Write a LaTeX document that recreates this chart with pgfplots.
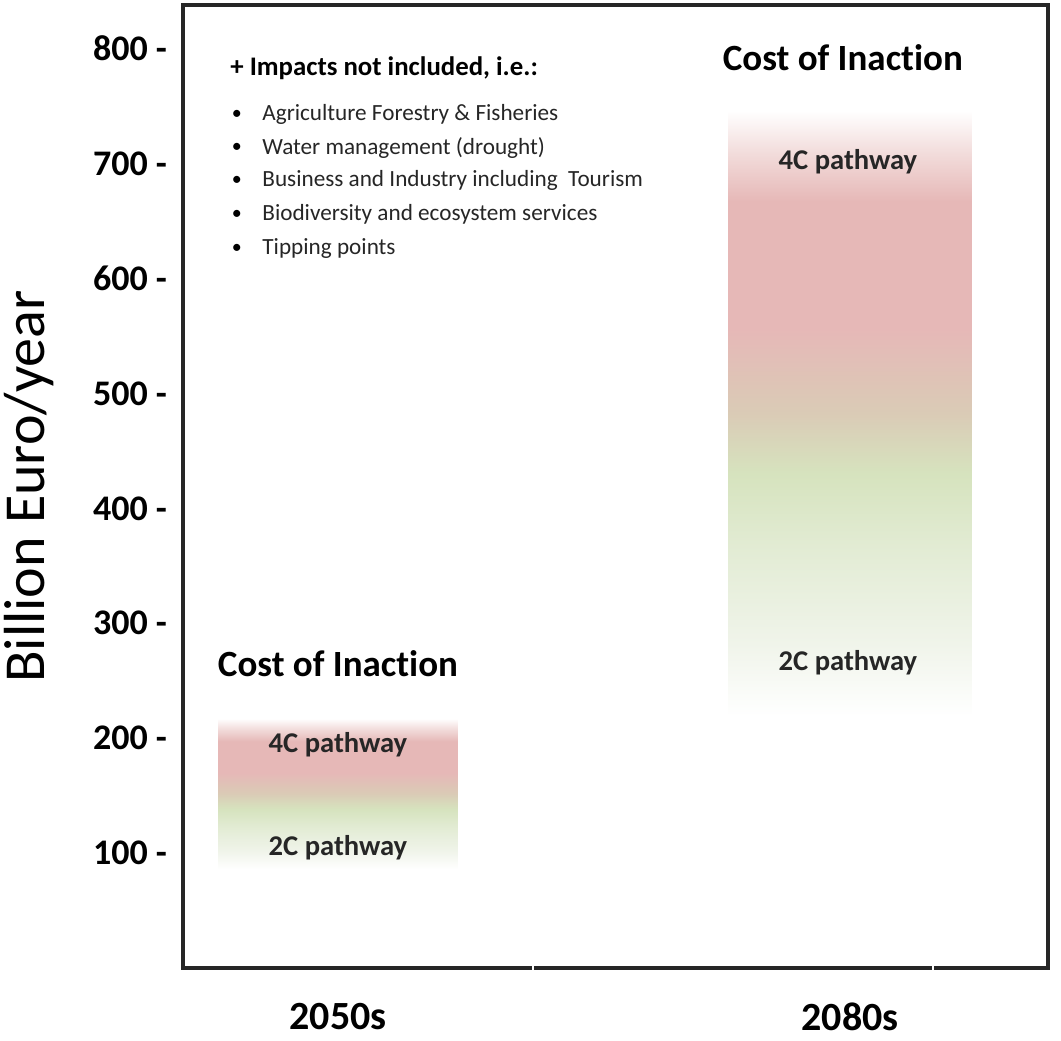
\documentclass[border=0pt]{standalone}
\usepackage{fontspec}
\setmainfont{Carlito}[Ligatures=NoCommon]
\usepackage{pgfplots}
\pgfplotsset{compat=1.18}

\definecolor{cR}{HTML}{E6B8B7}
\definecolor{cP}{HTML}{F2DCDB}
\definecolor{cT}{HTML}{DACBB6}
\definecolor{cG}{HTML}{D6E3BE}
\definecolor{cLG}{HTML}{E3ECD5}
\definecolor{cVL}{HTML}{F0F4EA}
\definecolor{axcol}{HTML}{262626}

\pgfdeclareverticalshading{costshade}{100bp}{%
  color(0bp)=(white); color(25bp)=(white);
  color(31bp)=(cVL); color(38.5bp)=(cLG); color(45bp)=(cG);
  color(50bp)=(cT); color(57bp)=(cR); color(67.5bp)=(cR);
  color(71.5bp)=(cP); color(75bp)=(white); color(100bp)=(white)}

\tikzset{bul/.style={inner sep=0, font=\fontsize{10}{12}\selectfont},
         itm/.style={anchor=west, inner sep=0, font=\fontsize{11.6}{13}\selectfont, text=black!85},
         pw/.style={font=\fontsize{14.3}{16}\selectfont\bfseries, text=black!85},
         coi/.style={font=\fontsize{18.5}{20}\selectfont\bfseries}}

\begin{document}
\begin{tikzpicture}
\begin{axis}[
  name=ax,
  scale only axis, width=432.5pt, height=481.5pt,
  xmin=0.6973, xmax=2.3867, ymin=0, ymax=838,
  xtick={1,2}, xticklabels={2050s, \raisebox{-2pt}{2080s}},
  ytick={100,200,...,800},
  yticklabels={100 -,200 -,300 -,400 -,500 -,600 -,700 -,800 -},
  major tick length=0pt,
  xtick pos=bottom, ytick pos=left,
  yticklabel style={font=\fontsize{18}{20}\selectfont\bfseries, xshift=-4.5pt},
  xticklabel style={font=\fontsize{20}{24}\selectfont\bfseries, yshift=-14pt},
  ylabel={Billion Euro/year},
  ylabel style={font=\fontsize{29}{32}\selectfont, at={([xshift=-77pt]rel axis cs:0,0.5)}, anchor=center},
  axis line style={line width=2.2pt, draw=axcol},
  clip=false,
  extra x ticks={1.381,2.162}, extra x tick labels={},
  extra x tick style={major tick length=6pt, tick align=center, tick style={white, line width=1pt}},
]
% 2050s range: ~86 to ~217
\addplot[draw=none, mark=none, shade, shading=costshade] coordinates {(0.766,86) (1.234,86) (1.234,217) (0.766,217)} -- cycle;
% 2080s range: ~219 to ~746
\addplot[draw=none, mark=none, shade, shading=costshade] coordinates {(1.762,219) (2.238,219) (2.238,746) (1.762,746)} -- cycle;

\node[coi] at (axis cs:1,264.7) {Cost of Inaction};
\node[coi] at (axis cs:1.986,792) {Cost of Inaction};
\node[pw] at (axis cs:1,194) {4C pathway};
\node[pw] at (axis cs:1,105) {2C pathway};
\node[pw] at (axis cs:1.996,702) {4C pathway};
\node[pw] at (axis cs:1.996,265.5) {2C pathway};

\node[anchor=west, inner sep=0, font=\fontsize{13.4}{15}\selectfont\bfseries] at (axis cs:0.789,782.7) {+ Impacts not included, i.e.:};
\node[bul] at (axis cs:0.8027,742.6) {\textbullet};
\node[bul] at (axis cs:0.8027,713.9) {\textbullet};
\node[bul] at (axis cs:0.8027,685.2) {\textbullet};
\node[bul] at (axis cs:0.8027,655.6) {\textbullet};
\node[bul] at (axis cs:0.8027,626.0) {\textbullet};
\node[itm] at (axis cs:0.8516,742.6) {Agriculture Forestry \& Fisheries};
\node[itm] at (axis cs:0.8516,713.9) {Water management (drought)};
\node[itm] at (axis cs:0.8516,685.2) {Business and Industry including\ \ Tourism};
\node[itm] at (axis cs:0.8516,655.6) {Biodiversity and ecosystem services};
\node[itm] at (axis cs:0.8516,626.0) {Tipping points};
\end{axis}
\pgfresetboundingbox
\path[use as bounding box] ([shift={(-91.5pt,-36pt)}]ax.south west) rectangle ([shift={(6.5pt,2.5pt)}]ax.north east);
\end{tikzpicture}
\end{document}
